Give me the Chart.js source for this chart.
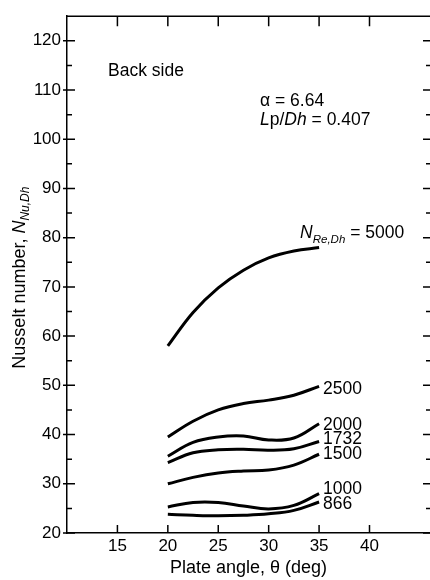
<!DOCTYPE html>
<html>
<head>
<meta charset="utf-8">
<script src="https://cdn.jsdelivr.net/npm/chart.js@4.4.0/dist/chart.umd.min.js"></script>
<style>
  html, body { margin: 0; padding: 0; background: #fff; }
  #wrap { width: 430px; height: 580px; position: relative; }
</style>
</head>
<body>
<div id="wrap"><canvas id="nusselt"></canvas></div>
<script>
// plate angle (deg) and Nusselt number for each Reynolds number
const angles = [20, 22.5, 25, 27.5, 30, 32.5, 35];
const reLabels = ['5000', '2500', '2000', '1732', '1500', '1000', '866'];
const nu5000 = [58, 64.8, 69.8, 73.4, 75.9, 77.3, 78];
const nu2500 = [39.5, 42.7, 45, 46.3, 47, 48, 49.8];
const nu2000 = [35.6, 38.4, 39.5, 39.7, 38.9, 39.3, 42.2];
const nu1732 = [34.3, 36.3, 36.9, 37, 36.8, 37.1, 38.6];
const nu1500 = [30, 31.3, 32.2, 32.6, 32.8, 33.8, 36];
const nu1000 = [25.3, 26.2, 26.2, 25.5, 24.9, 25.6, 28];
const nu866 = [23.8, 23.6, 23.5, 23.6, 23.9, 24.6, 26.3];
const xTicks = [15, 20, 25, 30, 35, 40];
const yTicks = [20, 30, 40, 50, 60, 70, 80, 90, 100, 110, 120];

const FONT = "'Liberation Sans', Arial, sans-serif";
const INK = '#000';

const series = [nu5000, nu2500, nu2000, nu1732, nu1500, nu1000, nu866];

// draw a run of text pieces (font, dy) one after the other
function richText(ctx, x, y, parts, align) {
    let w = 0;
    parts.forEach(p => { ctx.font = p.font; w += ctx.measureText(p.t).width; });
    let cx = align === 'center' ? x - w / 2 : x;
    parts.forEach(p => {
        ctx.font = p.font;
        ctx.fillText(p.t, cx, y + (p.dy || 0));
        cx += ctx.measureText(p.t).width;
    });
}

const reg = s => s + 'px ' + FONT;
const ita = s => 'italic ' + s + 'px ' + FONT;

const decorations = {
    id: 'decorations',
    afterDraw(chart) {
        const ctx = chart.ctx;
        const ax = chart.scales.x, ay = chart.scales.y;
        const { left, right, top, bottom } = chart.chartArea;
        ctx.save();
        ctx.strokeStyle = INK;
        ctx.lineWidth = 1.5;
        ctx.beginPath();
        // top border
        ctx.moveTo(left, top); ctx.lineTo(right, top);
        // left ticks: majors cross the axis, minors inside
        yTicks.forEach((v, i) => {
            const y = ay.getPixelForValue(v);
            ctx.moveTo(left - 4, y); ctx.lineTo(left + 8, y);
            if (i < yTicks.length - 1) {
                const ym = ay.getPixelForValue(v + 5);
                ctx.moveTo(left, ym); ctx.lineTo(left + 5, ym);
            }
            // right side ticks pointing inward
            ctx.moveTo(right - 7, y); ctx.lineTo(right, y);
            if (i < yTicks.length - 1) {
                const ym = ay.getPixelForValue(v + 5);
                ctx.moveTo(right - 4, ym); ctx.lineTo(right, ym);
            }
        });
        xTicks.forEach(v => {
            const x = ax.getPixelForValue(v);
            ctx.moveTo(x, bottom); ctx.lineTo(x, bottom - 8);
            ctx.moveTo(x, top); ctx.lineTo(x, top + 10);
        });
        ctx.stroke();

        ctx.fillStyle = INK;
        ctx.textBaseline = 'alphabetic';
        ctx.textAlign = 'left';

        // axis titles
        richText(ctx, (left + right) / 2, 573, [{ t: 'Plate angle, \u03b8 (deg)', font: reg(18) }], 'center');
        ctx.save();
        ctx.translate(25, (top + bottom) / 2 + 3);
        ctx.rotate(-Math.PI / 2);
        richText(ctx, 0, 0, [
            { t: 'Nusselt number, ', font: reg(18) },
            { t: 'N', font: ita(18) },
            { t: 'Nu,Dh', font: ita(12), dy: 4 }
        ], 'center');
        ctx.restore();

        // annotations
        richText(ctx, 108, 76, [{ t: 'Back side', font: reg(17.5) }]);
        richText(ctx, 260, 106, [{ t: '\u03b1 = 6.64', font: reg(17.5) }]);
        richText(ctx, 260, 125, [
            { t: 'L', font: ita(17.5) }, { t: 'p/', font: reg(17.5) },
            { t: 'Dh', font: ita(17.5) }, { t: ' = 0.407', font: reg(17.5) }
        ]);

        // curve labels at the end of each line
        const labelDy = [0, 3, 1, -2, 0, -4, 2];
        series.forEach((vals, i) => {
            const last = vals.length - 1;
            const x = ax.getPixelForValue(angles[last]);
            const y = ay.getPixelForValue(vals[last]);
            if (i === 0) {
                richText(ctx, x - 19, y - 10, [
                    { t: 'N', font: ita(17.5) },
                    { t: 'Re,Dh', font: ita(11.5), dy: 5 },
                    { t: ' = ' + reLabels[i], font: reg(17.5) }
                ]);
            } else {
                ctx.font = reg(17.5);
                ctx.textBaseline = 'middle';
                ctx.fillText(reLabels[i], x + 4, y + labelDy[i]);
                ctx.textBaseline = 'alphabetic';
            }
        });
        ctx.restore();
    }
};

new Chart(document.getElementById('nusselt'), {
    type: 'line',
    data: {
        datasets: series.map((vals, i) => ({
            label: reLabels[i],
            data: angles.map((a, j) => ({ x: a, y: vals[j] })),
            borderColor: INK,
            borderWidth: 3,
            pointRadius: 0,
            fill: false,
            tension: 0.4
        }))
    },
    options: {
        responsive: true,
        maintainAspectRatio: false,
        animation: false,
        layout: { padding: { top: 9, right: 0, bottom: 0, left: 0 } },
        plugins: { legend: { display: false }, tooltip: { enabled: false } },
        scales: {
            x: {
                type: 'linear',
                min: 10,
                max: 46,
                afterBuildTicks: s => { s.ticks = xTicks.map(v => ({ value: v })); },
                afterFit: s => { s.height = 47; },
                grid: { display: false, drawTicks: false },
                border: { display: true, color: INK, width: 1.5 },
                ticks: { padding: 3, color: INK, font: { family: FONT, size: 17 } }
            },
            y: {
                type: 'linear',
                min: 20,
                max: 125,
                afterBuildTicks: s => { s.ticks = yTicks.map(v => ({ value: v })); },
                afterFit: s => { s.width = 67; },
                grid: { display: false, drawTicks: false },
                border: { display: true, color: INK, width: 1.5 },
                ticks: { padding: 6, color: INK, font: { family: FONT, size: 17 } }
            }
        }
    },
    plugins: [decorations]
});
</script>
</body>
</html>
